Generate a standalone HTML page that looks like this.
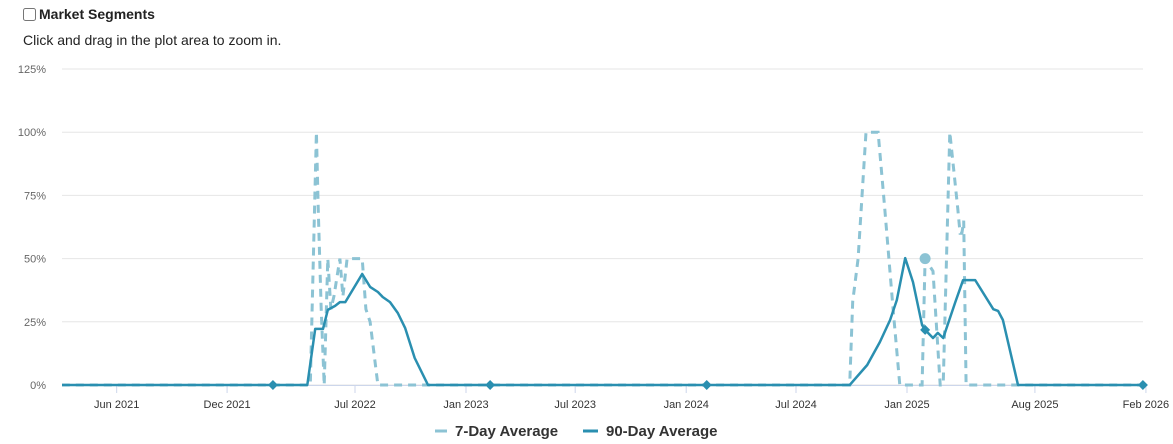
<!DOCTYPE html>
<html><head><meta charset="utf-8"><style>
body{margin:0;width:1173px;height:444px;overflow:hidden;background:#fff;font-family:"Liberation Sans",Arial,sans-serif;}
#hdr{position:absolute;left:23px;top:6px;font-size:14px;font-weight:bold;color:#222;display:flex;align-items:center;}
#hdr input{margin:0 3px 0 0;width:13px;height:13px;}
#sub{position:absolute;left:23px;top:32px;font-size:14px;color:#222;}
</style></head><body>
<div id="hdr"><input type="checkbox"><span>Market Segments</span></div>
<div id="sub">Click and drag in the plot area to zoom in.</div>
<svg id="chart" width="1173" height="444" style="position:absolute;left:0;top:0"></svg>
<script>
const yTicks=[0,25,50,75,100,125];
const xTickLabels=["Jun 2021","Dec 2021","Jul 2022","Jan 2023","Jul 2023","Jan 2024","Jul 2024","Jan 2025","Aug 2025","Feb 2026"];
const xTickDates=["2021-06-01","2021-12-01","2022-07-01","2023-01-01","2023-07-01","2024-01-01","2024-07-01","2025-01-01","2025-08-01","2026-02-01"];
const dates90=["2021-03-02","2022-04-13","2022-04-26","2022-05-09","2022-05-17","2022-05-29","2022-06-06","2022-06-15","2022-07-13","2022-07-26","2022-08-08","2022-08-16","2022-08-28","2022-09-10","2022-09-22","2022-10-08","2022-10-30","2024-09-28","2024-10-27","2024-11-17","2024-12-04","2024-12-15","2024-12-29","2025-01-11","2025-01-26","2025-01-31","2025-02-13","2025-02-21","2025-03-02","2025-03-22","2025-04-04","2025-04-24","2025-05-24","2025-06-01","2025-06-09","2025-07-04","2026-01-27"];
const values90=[0,0,22.2,22.2,29.7,31.3,32.8,32.8,43.9,38.8,36.8,34.8,32.8,28.5,22.6,10.7,0,0,7.9,17,25.7,33.6,50.2,40.7,23.7,21.8,18.6,20.6,18.6,32.8,41.5,41.5,30,29.3,25.7,0,0];
const dates7=["2021-03-02","2022-04-18","2022-04-28","2022-05-01","2022-05-06","2022-05-11","2022-05-17","2022-05-22","2022-05-27","2022-06-06","2022-06-11","2022-06-18","2022-07-13","2022-07-19","2022-07-26","2022-08-08","2024-09-28","2024-10-03","2024-10-12","2024-10-25","2024-11-14","2024-11-25","2024-12-09","2024-12-20","2025-01-26","2025-01-31","2025-02-13","2025-02-25","2025-03-02","2025-03-13","2025-03-26","2025-03-30","2025-04-02","2025-04-05","2025-04-09","2026-01-27"];
const values7=[0,0,100,70,30,0,50,30,35,50,35,50,50,30,25,0,0,33,50,100,100,70,30,0,0,50,45,0,0,100,70,60,60,65,0,0];
const markerDates=["2022-02-15","2023-02-10","2024-02-04","2025-01-31","2026-01-27"];
const markerValues=[0,0,0,21.8,0];

const NS="http://www.w3.org/2000/svg",svg=document.getElementById('chart');
const L=62,R=1143,T=69,B=385;
const base=Date.UTC(2023,0,1);
function x(d){const t=(Date.parse(d+"T00:00:00Z")-base)/86400000;return 466+t*0.6033;}
function y(v){return B-v*(B-T)/125;}
function el(tag,a,p){const e=document.createElementNS(NS,tag);for(const k in a)e.setAttribute(k,a[k]);(p||svg).appendChild(e);return e;}
const defs=el('defs',{});const cp=el('clipPath',{id:'clip'},defs);el('rect',{x:L,y:T-2,width:R-L+2,height:B-T+4},cp);
yTicks.forEach(v=>{
 const g=el('line',{x1:L,x2:R,y1:y(v),y2:y(v),stroke:'#e6e6e6','stroke-width':1});
 
 
 const t=el('text',{x:46,y:y(v)+4,'text-anchor':'end','font-size':11,fill:'#666'});t.textContent=v+'%';
 
 
});
el('line',{x1:L,x2:R,y1:B+0.5,y2:B+0.5,stroke:'#ccd6eb'});
xTickLabels.forEach((lab,i)=>{
 const xx=x(xTickDates[i]);
 el('line',{x1:xx,x2:xx,y1:B,y2:B+8,stroke:'#ccd6eb'});
 const t=el('text',{x:xx,y:408,'text-anchor':'middle','font-size':11,fill:'#333'});t.textContent=lab;
 
 
});
function path(ds,vs){return ds.map((d,i)=>(i?'L':'M')+x(d).toFixed(1)+','+y(vs[i]).toFixed(1)).join('');}
const g=el('g',{'clip-path':'url(#clip)'});
const p7=el('path',{d:path(dates7,values7),fill:'none',stroke:'#8cc3d4','stroke-width':3,'stroke-dasharray':'8,6'},g);


const p90=el('path',{d:path(dates90,values90),fill:'none',stroke:'#2a8fb0','stroke-width':2.5,'stroke-linejoin':'round'},g);


markerDates.forEach((d,i)=>{
 const cx=x(d),cy=y(markerValues[i]);
 const m=el('path',{d:`M${cx},${cy-5}L${cx+5},${cy}L${cx},${cy+5}L${cx-5},${cy}Z`,fill:'#2a8fb0'});
 
 
});
const hc=el('circle',{cx:x("2025-01-31"),cy:y(50),r:5.5,fill:'#8cc3d4'});


const lg1=el('g',{});


el('line',{x1:435,x2:447,y1:431,y2:431,stroke:'#8cc3d4','stroke-width':3},lg1);
const t1=el('text',{x:455,y:436,'font-size':15,'font-weight':'bold',fill:'#333'},lg1);t1.textContent='7-Day Average';
const lg2=el('g',{});


el('line',{x1:583,x2:598,y1:431,y2:431,stroke:'#2a8fb0','stroke-width':3},lg2);
const t2=el('text',{x:606,y:436,'font-size':15,'font-weight':'bold',fill:'#333'},lg2);t2.textContent='90-Day Average';
</script>
</body></html>
